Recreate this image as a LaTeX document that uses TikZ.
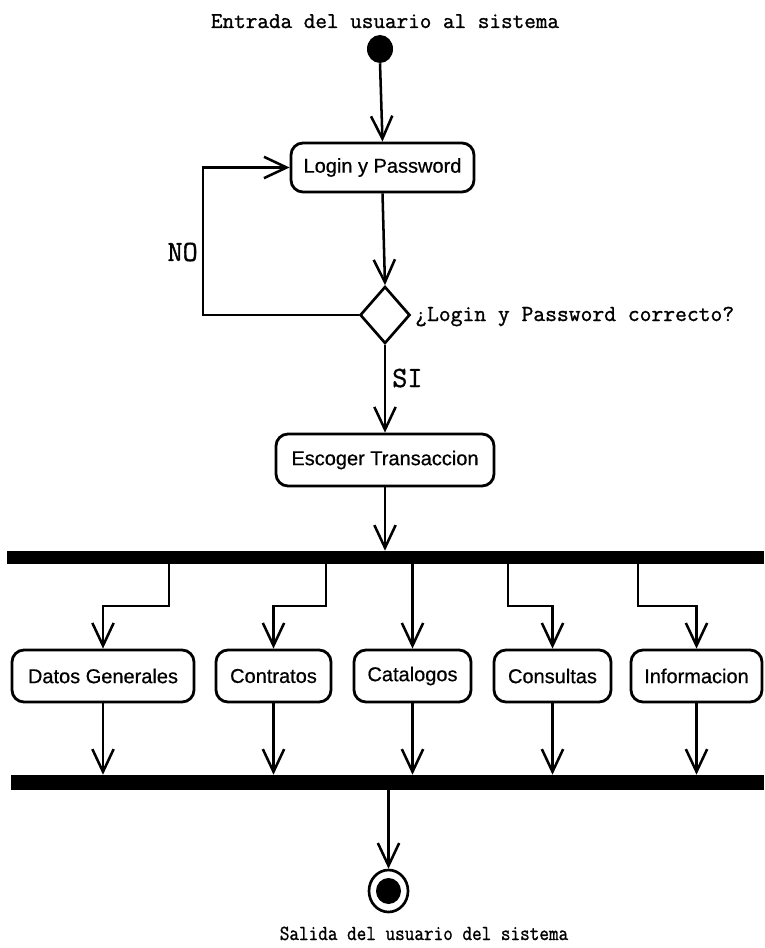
\documentclass[tikz,border=0pt]{standalone}
\usepackage{fontspec}
\newfontfamily\sansf{Liberation Sans}[FakeBold=0.6]
\newfontfamily\monof{Latin Modern Mono}[FakeBold=1.2]
\usetikzlibrary{arrows.meta,shapes.geometric}
\newdimen\PXU \PXU=0.75pt
\begin{document}
\begin{tikzpicture}[x=0.75pt,y=-0.75pt,
  act/.style={draw, line width=2.1pt, rounded corners=9pt, font=\sansf\fontsize{15}{18}\selectfont, inner sep=0pt, minimum height=52\PXU},
  arr/.style={line width=1.9pt, -{Straight Barb[length=17pt,width=16pt]}},
  barbox/.style={fill=black, draw=none, inner sep=0pt},
  monotxt/.style={font=\monof\fontsize{16.9}{20}\selectfont, inner sep=0pt},
  bigmono/.style={font=\monof\fontsize{22}{24}\selectfont, inner sep=0pt}]
\useasboundingbox (0,0) rectangle (764,948);

% texts
\node[monotxt, anchor=base] (t1) at (385,28) {Entrada del usuario al sistema};
\node[monotxt, anchor=base west] (q) at (415,321) {\fontsize{17.2}{20}\selectfont ¿Login y Password correcto?};
\node[bigmono, anchor=base west] (si) at (392,387) {SI};
\node[bigmono, anchor=base east] (no) at (198,261) {NO};
\node[font=\monof\fontsize{14}{16}\selectfont, inner sep=0pt, anchor=base] (t2) at (424,940) {\scalebox{1}[1.15]{Salida del usuario del sistema}};

% start
\node[ellipse, fill=black, minimum width=26\PXU, minimum height=28\PXU, inner sep=0pt] (start) at (380,49) {};

% activities
\node[act, minimum width=183\PXU, minimum height=49\PXU] (login) at (382.5,167.5) {Login y Password};
\node[diamond, draw, line width=2pt, minimum width=50\PXU, minimum height=57\PXU, inner sep=0pt] (dia) at (385,315) {};
\node[act, minimum width=218\PXU] (esc) at (385,460) {Escoger Transaccion};

\node[barbox, minimum width=757\PXU, minimum height=13\PXU] (bar1) at (385.5,557.5) {};

\node[act, minimum width=182\PXU] (dg) at (103,676) {Datos Generales};
\node[act, minimum width=115\PXU] (con) at (273.5,676) {Contratos};
\node[act, minimum width=117\PXU] (cat) at (412.5,676) {Catalogos};
\node[act, minimum width=117\PXU] (cons) at (552.5,676) {Consultas};
\node[act, minimum width=131\PXU] (inf) at (696.5,676) {Informacion};

\node[barbox, minimum width=753\PXU, minimum height=15\PXU] (bar2) at (387.5,782.5) {};

% end
\node[ellipse, draw, line width=2pt, fill=white, minimum width=39\PXU, minimum height=42\PXU, inner sep=0pt] (end) at (388.5,891) {};
\node[ellipse, fill=black, minimum width=25\PXU, minimum height=26\PXU, inner sep=0pt] (endin) at (end.center) {};

% connectors
\draw[arr] (start.south) -- (login.north);
\draw[arr] (login.south) -- (dia.north);
\draw[arr] (dia.south) -- (esc.north);
\coordinate (lp) at (203,0);
\draw[arr] (dia.west) -| (lp |- login.west) -- (login.west);
\draw[arr] (esc.south) -- (esc.south |- bar1.north);

\coordinate (k1) at (169,606);
\coordinate (k2) at (326,606);
\coordinate (k4) at (508,606);
\coordinate (k5) at (638,606);
\draw[arr] (bar1.south -| k1) -- (k1) -| (dg.north);
\draw[arr] (bar1.south -| k2) -- (k2) -| (con.north);
\draw[arr] (bar1.south -| cat.north) -- (cat.north);
\draw[arr] (bar1.south -| k4) -- (k4) -| (cons.north);
\draw[arr] (bar1.south -| k5) -- (k5) -| (inf.north);

\draw[arr] (dg.south) -- (dg.south |- bar2.north);
\draw[arr] (con.south) -- (con.south |- bar2.north);
\draw[arr] (cat.south) -- (cat.south |- bar2.north);
\draw[arr] (cons.south) -- (cons.south |- bar2.north);
\draw[arr] (inf.south) -- (inf.south |- bar2.north);

\draw[arr] (bar2.south -| end.north) -- (end.north);
\end{tikzpicture}
\end{document}
